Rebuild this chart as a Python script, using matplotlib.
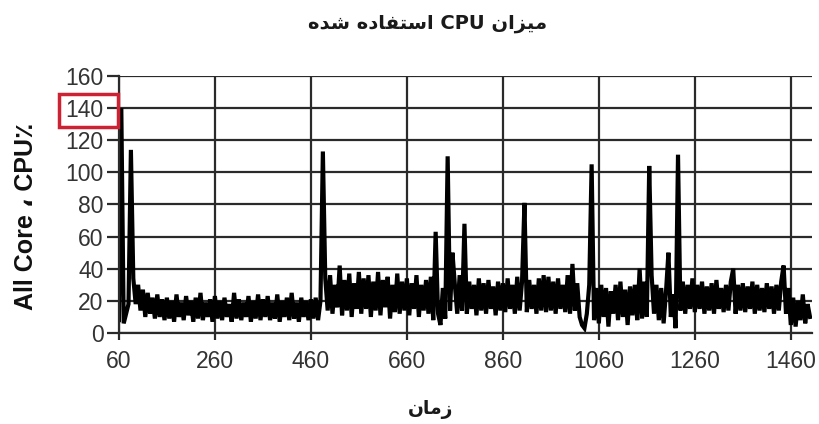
import matplotlib
matplotlib.use("Agg")
import matplotlib.pyplot as plt
from matplotlib.patches import Rectangle
import numpy as np

# ---- data ----
t_start = 60
t_step = 5
cpu = [
    8, 140, 6, 12, 18, 114, 34, 18, 30, 14, 27, 10, 25, 12, 22, 9, 24, 10, 21, 8,
    22, 9, 20, 7, 24, 10, 19, 8, 23, 11, 20, 7, 22, 9, 25, 8, 19, 10, 21, 7,
    23, 9, 20, 8, 22, 10, 18, 7, 25, 9, 21, 8, 19, 10, 23, 7, 20, 9, 24, 8,
    21, 10, 23, 8, 19, 9, 24, 7, 20, 10, 22, 8, 25, 9, 19, 7, 22, 10, 20, 8,
    21, 9, 22, 8, 20, 113, 34, 14, 36, 12, 30, 16, 42, 11, 33, 14, 37, 10, 31, 15,
    38, 12, 34, 15, 36, 10, 32, 14, 38, 11, 33, 16, 35, 9, 30, 13, 37, 12, 32, 14,
    34, 11, 31, 15, 36, 10, 30, 14, 33, 12, 35, 8, 63, 12, 5, 28, 9, 110, 14, 50,
    30, 12, 36, 14, 68, 12, 32, 15, 30, 11, 34, 14, 31, 12, 33, 15, 29, 11, 32, 14,
    31, 13, 34, 15, 30, 12, 35, 14, 32, 81, 13, 33, 15, 30, 12, 34, 14, 36, 13, 35,
    14, 32, 12, 34, 15, 30, 13, 36, 12, 43, 14, 31, 10, 5, 3, 12, 30, 105, 8, 28,
    6, 30, 10, 28, 4, 26, 12, 30, 8, 32, 10, 27, 5, 29, 11, 30, 8, 40, 9, 32,
    10, 104, 36, 12, 30, 8, 28, 6, 26, 50, 10, 24, 3, 111, 14, 32, 12, 30, 15, 34,
    13, 30, 15, 32, 12, 29, 14, 31, 12, 33, 15, 28, 13, 30, 14, 32, 40, 12, 30, 14,
    31, 13, 29, 15, 32, 12, 30, 14, 28, 13, 31, 15, 29, 12, 30, 14, 32, 42, 12, 28,
    5, 22, 4, 20, 8, 24, 6, 18, 10,
]
x_ticks = [60, 260, 460, 660, 860, 1060, 1260, 1460]
y_ticks = [0, 20, 40, 60, 80, 100, 120, 140, 160]
highlight_tick = "140"

# Persian texts (presentation forms, visual order)
title_txt = "\uFEE9\uFEAA\uFEB7 \uFEE9\uFEA9\uFE8E\uFED4\uFE98\uFEB3\uFE8D CPU \uFEE5\uFE8D\uFEB0\uFEF4\uFEE3"
xlabel_txt = "\uFEE5\uFE8E\uFEE3\uFEAF"
ylabel_txt = "All Core \u060C CPU\u066A"

t = t_start + t_step * np.arange(len(cpu))

fig = plt.figure(figsize=(8.2, 4.24), dpi=100)
ax = fig.add_axes([0.145, 0.2146, 0.845, 0.6062])
ax.plot(t, cpu, color="black", lw=3.0, solid_joinstyle="miter")
ax.set_xlim(60, 1503.75)
ax.set_ylim(0, 160)
ax.set_xticks(x_ticks)
ax.set_yticks(y_ticks)
ax.grid(True, color="#2a2a2a", lw=1.6)
ax.set_axisbelow(True)
for s in ["top", "right"]:
    ax.spines[s].set_visible(False)
for s in ["left", "bottom"]:
    ax.spines[s].set_color("#2a2a2a")
    ax.spines[s].set_linewidth(1.6)
ax.tick_params(axis="y", direction="out", length=9, width=1.6, color="#2a2a2a", pad=2)
ax.tick_params(axis="x", direction="out", length=5, width=1.6, color="#2a2a2a", pad=7)
for lab in ax.get_xticklabels() + ax.get_yticklabels():
    lab.set_fontfamily(["Liberation Sans", "DejaVu Sans"])
    lab.set_fontsize(16.5)
    lab.set_color("#333333")

fig.text(0.522, 0.945, title_txt, ha="center", va="center", fontsize=14,
         fontweight="bold", family=["DejaVu Sans"], color="#1a1a1a")
fig.text(0.525, 0.035, xlabel_txt, ha="center", va="center", fontsize=13.5,
         fontweight="bold", family=["DejaVu Sans"], color="#1a1a1a")
fig.text(0.032, 0.49, ylabel_txt, ha="center", va="center", rotation=90,
         fontsize=18, fontweight="bold", family=["Liberation Sans", "DejaVu Sans"], color="#111111")

fig.canvas.draw()
for lab in ax.get_yticklabels():
    if lab.get_text() == highlight_tick:
        bb = lab.get_window_extent()
        inv = fig.transFigure.inverted()
        (x0, y0), (x1, y1) = inv.transform([(bb.x0 - 6, bb.y0 - 5), (bb.x1 + 14, bb.y1 + 5)])
        fig.patches.append(Rectangle((x0, y0), x1 - x0, y1 - y0, transform=fig.transFigure,
                                     fill=False, edgecolor="#cc2233", lw=2.5, figure=fig))

fig.savefig("out.png", dpi=100)
